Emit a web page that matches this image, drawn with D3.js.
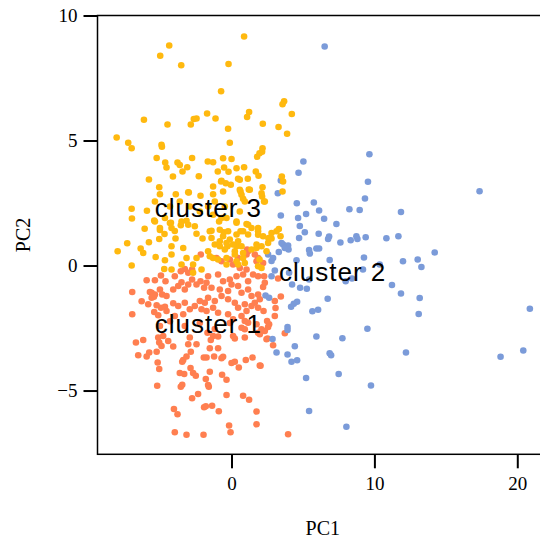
<!DOCTYPE html>
<html>
<head>
<meta charset="utf-8">
<script src="https://cdn.jsdelivr.net/npm/d3@7"></script>
<style>
  body { margin: 0; background: #fff; }
  svg { display: block; }
</style>
</head>
<body>
<div id="chart"></div>
<script>

// cluster 1 (orange) [PC1, PC2]
var cluster1 = [
  [1.09,0.64],[-6.95,-1.06],[-6.95,-1.95],[-6.29,-1.43],[-5.94,-0.59],[-5.59,-1.09],[-5.43,-1.25],
  [-6.69,-3.08],[-6.18,-2.98],[-6.53,-3.59],[-5.94,-3.64],[-5.76,-3.48],[-5.24,-3.45],[-5.13,-2.88],
  [-4.78,-2.82],[-5.06,-3.08],[-4.90,-3.22],[-4.43,-3.02],[-4.08,-3.24],[-2.92,-2.88],[-3.03,-3.15],
  [-2.45,-3.15],[-2.85,-3.45],[-3.15,-3.64],[-3.38,-3.78],[-3.45,-3.85],[-1.94,-3.68],[-5.17,-3.88],
  [-5.06,-4.14],[-3.62,-4.30],[-3.31,-4.34],[-2.87,-4.10],[-2.69,-4.30],[-2.50,-4.41],[-1.80,-4.54],
  [-5.20,-4.81],[-3.55,-4.85],[-3.45,-4.77],[-2.34,-5.14],[-2.76,-5.31],[-4.03,-5.74],[-3.78,-5.95],
  [-1.92,-5.67],[-3.97,-6.67],[-3.15,-6.77],[-1.96,-6.77],
  [-1.68,-2.69],[-1.29,-2.82],[-0.94,-2.84],[-1.45,-2.98],[0.11,-2.82],[0.23,-2.92],[0.93,-2.88],
  [0.70,-2.49],[0.93,-2.55],[1.86,-2.69],[1.98,-2.75],[2.33,-2.62],[2.52,-2.92],[2.56,-2.46],
  [2.91,-3.19],[3.73,-2.71],[-1.52,-3.31],[-0.94,-3.31],[-1.75,-3.68],[-1.22,-3.64],[-0.70,-3.71],
  [-0.59,-3.65],[0,-3.90],[0.23,-3.85],[0.51,-4.08],[1.00,-3.78],[1.47,-3.68],[2.03,-4.01],
  [-1.52,-4.25],[-0.66,-4.37],[-0.35,-4.57],[-1.64,-4.78],[-1.59,-4.85],[-0.35,-5.18],[0.81,-5.21],
  [1.23,-5.37],[-1.80,-5.63],[-1.36,-5.61],[-0.89,-5.83],[1.75,-5.84],[-0.17,-6.40],[-0.07,-6.67],
  [1.75,-6.35],[3.96,-6.75],
  [3.45,-1.24],[3.26,-0.52],[3.08,-1.70],[1.98,-4.00],[2.45,-2.95],[2.49,-2.22],[2.63,-2.35],
  [2.24,-1.82],[2.21,-0.86],[2.28,-0.43],
  [-5.36,-0.59],[-4.94,-0.40],[-4.62,-0.63],[-3.97,-0.43],[-3.55,-0.23],[-3.27,-0.14],[-3.03,-0.29],
  [-2.76,-0.16],[-5.36,-1.16],[-5.71,-1.06],[-5.59,-1.29],[-5.01,-0.96],[-4.85,-1.16],[-4.55,-1.22],
  [-4.08,-0.96],[-3.73,-0.82],[-3.50,-0.67],[-3.27,-0.96],[-3.03,-0.76],[-2.76,-0.56],[-2.45,-0.76],
  [-2.17,-0.63],[-1.92,-0.89],[-1.75,-0.69],[-5.83,-1.55],[-5.24,-1.59],[-4.94,-1.69],[-4.66,-1.65],
  [-4.08,-1.51],[-3.73,-1.62],[-3.27,-1.49],[-2.92,-1.75],[-2.57,-1.62],[-2.22,-1.42],[-1.87,-1.49],
  [-2.10,-1.75],[-1.75,-1.82],[-5.41,-1.86],[-5.13,-1.99],[-4.55,-1.82],[-3.97,-2.02],[-3.38,-1.95],
  [-2.15,0.44],
  [1.16,0.57],[1.05,0.44],[1.63,0.44],[1.86,0.30],[2.21,0.10],[1.75,0.17],[-1.05,0.30],[-0.70,0.17],
  [-0.12,0.24],[0.11,0.04],[0.46,0.30],[0.58,-0.10],[1.05,-0.16],[-1.64,-0.43],[-0.94,-0.36],
  [-0.59,-0.63],[-0.12,-0.56],[0.35,-0.43],[0.81,-0.36],[1.16,-0.63],[1.51,-0.36],[1.86,-0.43],
  [2.33,-0.69],[-1.40,-0.89],[-0.82,-0.96],[-0.24,-1.02],[0,-0.76],[0.46,-0.82],[0.70,-1.09],
  [1.16,-0.96],[1.40,-1.22],[1.86,-1.16],[1.98,-1.35],[1.63,-1.49],[-1.64,-1.29],[-1.17,-1.42],
  [-0.70,-1.22],[-0.24,-1.35],[0.23,-1.49],[0.46,-1.69],[0.93,-1.55],[1.05,-1.82],[1.40,-1.62],
  [1.86,-1.69],[-1.29,-1.69],[-0.94,-1.89],[-0.24,-1.95],[0.11,-2.15],[0.70,-2.02],[1.16,-2.29],
  [1.75,-2.35],[2.10,-2.55],[3.03,-1.42],[3.03,-2.02],
  [-4.31,-2.23],[-3.27,-2.42],[-2.22,-2.30],[-1.17,-2.54],[-0.12,-2.30],[-5.01,-2.42],[0.93,-2.22]
];

// cluster 2 (blue)
var cluster2 = [
  [6.52,8.76],[9.65,4.45],[5.03,4.16],[4.69,3.71],[9.55,3.35],[17.36,2.97],[9.34,2.68],[3.45,3.40],
  [3.24,2.89],[4.57,2.49],[5.76,2.52],[6.13,2.20],[8.25,2.25],[8.97,2.22],[11.86,2.14],[3.45,2.00],
  [4.66,1.90],[5.22,2.06],[6.48,1.87],[7.34,1.66],[4.78,1.58],[5.13,1.33],[6.10,1.27],[6.83,1.16],
  [6.76,1.06],[7.62,0.92],[8.34,1.01],[8.74,1.17],[8.81,1.06],[9.39,1.13],[10.84,1.09],[11.68,1.17],
  [4.73,1.10],[3.61,0.84],[3.96,0.80],[3.99,0.64],[3.31,0.54],[5.43,0.62],[5.48,0.48],[5.94,0.68],
  [6.13,0.68],[9.27,0.32],[14.22,0.52],[13.03,0.24],[13.29,-0.06],[12.0,0.17],[2.80,0.18],[4.55,0.21],
  [6.87,0.22],[3.03,-0.20],[4.03,-0.29],[10.37,0.04],[9.20,-0.16],
  [7.99,-0.63],[8.43,-0.52],[5.43,-0.56],[4.24,-0.76],[4.80,-0.89],[5.27,-0.93],[11.23,-0.78],
  [11.86,-1.12],[13.17,-1.30],[13.10,-1.94],[6.73,-1.33],[4.59,-1.45],[4.36,-1.53],[4.17,-1.65],
  [6.06,-1.77],[5.66,-1.83],[20.88,-1.73],[9.51,-2.53],[3.92,-2.46],[3.92,-2.58],[5.94,-2.84],
  [7.76,-2.91],[2.87,-2.94],[3.15,-3.48],[4.43,-3.23],[3.92,-3.56],[4.20,-3.85],[4.59,-3.79],
  [6.87,-3.51],[6.97,-3.59],[12.21,-3.48],[20.42,-3.40],[18.83,-3.65],[7.50,-4.34],[5.22,-4.50],
  [9.76,-4.80],[5.43,-5.82],[8.04,-6.45],
  [3.50,0.90],[3.73,0.70],[2.56,0.44],[2.91,0.30],[2.80,-0.43],[2.38,-1.20],[2.63,-1.29]
];

// cluster 3 (yellow)
var cluster3 = [
  [0.88,9.16],[-4.36,8.80],[-4.99,8.39],[-0.21,8.06],[-3.52,8.01],[-0.73,6.97],[1.23,6.14],[1.09,5.94],
  [-1.71,6.08],[-1.12,5.88],[-2.45,5.88],[-2.64,5.86],[-2.85,5.64],[-6.13,5.83],[-4.48,5.64],[2.19,5.67],
  [3.29,5.54],[-0.24,5.47],[-8.04,5.12],[-7.23,4.91],[-6.99,4.69],[-0.12,4.91],[-4.90,4.83],[-4.87,4.75],
  [2.17,4.69],[2.14,4.55],[-5.24,4.30],[-2.76,4.30],[-0.59,4.29],[0,4.26],[1.79,4.35],[1.96,4.49],
  [-4.64,4.12],[-3.78,4.12],[-1.66,4.16],[-1.29,4.13],[0.88,3.93],[-4.55,3.92],[-3.62,4.02],[-3.10,3.93],
  [-3.43,3.76],[-0.52,3.92],[-0.21,3.75],[0.35,3.89],[-0.96,3.76],[1.70,3.76],[-4.10,3.56],[-2.29,3.57],
  [1.14,3.47],[1.89,3.59],[-5.78,3.44],[-0.73,3.36],[-0.40,3.29],[-0.05,3.23],[0.58,3.43],[-5.06,3.13],
  [-1.29,3.16],[2.17,3.13],[0.63,2.96],[1.21,3.04],[-2.99,2.92],[-2.17,2.79],[2.14,2.76],[0.81,2.67],
  [-6.99,2.27],[-6.97,1.88],[-5.92,2.19],[-5.41,1.80],[-4.66,1.90],[-4.24,1.71],[-3.15,1.79],[-3.55,1.61],
  [-0.87,1.76],[-0.35,1.90],[0.35,1.71],[1.05,1.66],[-6.08,1.47],[-5.01,1.42],[-4.69,1.26],[-3.97,1.38],
  [-2.45,1.27],[-1.40,1.39],[-0.54,1.33],[0.63,1.37],[1.86,1.23],[2.59,1.08],[-7.30,0.89],[-7.97,0.57],
  [-5.78,0.93],[-5.06,1.06],[-3.92,1.08],[-3.38,0.70],[-2.03,1.08],[-0.82,0.97],[-0.28,0.77],[0.35,0.77],
  [1.75,0.70],[-6.36,0.68],[-6.18,0.50],[-4.20,0.77],[-1.64,0.57],[-6.99,0],[-5.31,0.34],[-4.66,0.21],
  [-4.20,0.44],[-3.15,0.30],[-2.45,0.30],[-1.29,0.30],[0.23,0.44],[0.81,0.30],[1.96,0.24],[-3.50,0.04],
  [-2.69,0.04],[-0.35,0.04],[0.46,0.04],
  [3.68,6.57],[3.57,6.45],[4.22,6.06],[3.89,5.27],[3.52,3.56],[3.61,3.36],[3.57,2.96],[2.28,2.56],
  [2.61,1.10],[2.80,1.08],[3.43,1.17],[3.31,1.46],
  [-1.52,1.37],[-1.40,1.10],[-0.82,1.43],[-0.59,1.17],[-0.24,1.37],[-0.12,1.04],[0.35,1.24],[0.46,0.97],
  [0.81,1.37],[1.16,1.24],[1.40,1.50],[1.86,1.37],[2.21,1.17],[2.80,1.30],[3.15,1.37],
  [-1.17,0.84],[-0.82,0.77],[-0.47,0.64],[-0.35,0.90],[0.11,0.84],[0.23,0.57],[0.70,0.77],[0.81,0.50],
  [1.40,0.64],[1.75,0.84],[2.10,0.77],[2.45,0.57],[2.56,0.90],[-1.52,0.37],[-0.94,0.24],[-0.35,0.30],
  [0.35,0.17],[0.93,0.10],[1.86,-0.03],[2.10,-0.10],
  [-4.71,-0.14],[-4.20,-0.16],[-2.69,-0.29],[-2.10,-0.16],
  [-5.01,2.85],[-3.90,2.85],[-3.03,2.93],[-5.36,2.56],[-5.36,1.76],[-5.01,1.50],[-4.31,1.70],[-4.20,1.50],
  [-3.50,1.76],[-3.03,1.63],[-2.57,1.57],
  [-0.70,3.39],[0.46,3.47],[0.58,3.03],[0.70,2.83],[1.28,3.03],[2.10,2.89],[2.33,2.56],[0.93,2.56],
  [-0.59,2.96],[-1.29,2.85],[0.35,1.76],[1.16,1.63],[1.86,1.50],[-1.64,2.36],[-1.29,2.03],[-0.70,1.90],
  [-2.92,2.36],[-2.22,2.16],[-1.17,2.56],[-0.47,2.36],[0.58,2.16],[-4.31,2.36],[-3.62,2.56]
];

var clusterNames = ["cluster 1", "cluster 2", "cluster 3"];
var clusterColors = ["#ff7f50", "#7b9bd9", "#ffb90f"];
// label anchor positions in data units
var labelPos = [[-1.62, -2.69], [7.08, -0.63], [-1.62, 1.96]];

var xTicks = [0, 10, 20];
var yTicks = [-5, 0, 5, 10];

var width = 540, height = 546;
var plotLeft = 97.5, plotTop = 15.5, plotRight = 548, plotBottom = 454.3;

var svg = d3.select("#chart")
  .append("svg")
  .attr("width", width)
  .attr("height", height);

var x = d3.scaleLinear()
  .domain([-9.38, 22.15])
  .range([plotLeft, plotRight]);

var y = d3.scaleLinear()
  .domain([-7.55, 10])
  .range([plotBottom, plotTop]);

// axes with outward ticks
var xAxis = svg.append("g")
  .attr("transform", "translate(0," + plotBottom + ")")
  .call(d3.axisBottom(x).tickValues(xTicks).tickSize(14).tickPadding(8).tickFormat(d3.format("d")));

var yAxis = svg.append("g")
  .attr("transform", "translate(" + plotLeft + ",0)")
  .call(d3.axisLeft(y).tickValues(yTicks).tickSize(14).tickPadding(6).tickFormat(function(d) {
    return d < 0 ? "\u2212" + Math.abs(d) : d;
  }));

[xAxis, yAxis].forEach(function(g) {
  g.select(".domain").remove();
  g.selectAll(".tick line").attr("stroke", "#000").attr("stroke-width", 2);
  g.selectAll(".tick text")
    .attr("fill", "#000")
    .style("font-family", "'Liberation Serif', 'Times New Roman', serif")
    .style("font-size", "19px");
});

// frame
svg.append("rect")
  .attr("x", plotLeft)
  .attr("y", plotTop)
  .attr("width", plotRight - plotLeft)
  .attr("height", plotBottom - plotTop)
  .attr("fill", "none")
  .attr("stroke", "#000")
  .attr("stroke-width", 1.5);

// points
var clusters = [cluster1, cluster2, cluster3];
clusters.forEach(function(pts, i) {
  svg.append("g")
    .selectAll("circle")
    .data(pts)
    .enter()
    .append("circle")
    .attr("cx", function(d) { return x(d[0]); })
    .attr("cy", function(d) { return y(d[1]); })
    .attr("r", 3.3)
    .attr("fill", clusterColors[i]);
});

// cluster labels
svg.append("g")
  .selectAll("text")
  .data(clusterNames)
  .enter()
  .append("text")
  .attr("x", function(d, i) { return x(labelPos[i][0]); })
  .attr("y", function(d, i) { return y(labelPos[i][1]); })
  .attr("text-anchor", "middle")
  .style("font-family", "'Liberation Sans', Arial, sans-serif")
  .style("font-size", "26px")
  .style("letter-spacing", "1px")
  .attr("fill", "#000")
  .text(function(d) { return d; });

// axis titles
svg.append("text")
  .attr("x", (plotLeft + plotRight) / 2)
  .attr("y", 535)
  .attr("text-anchor", "middle")
  .style("font-family", "'Liberation Serif', 'Times New Roman', serif")
  .style("font-size", "20px")
  .text("PC1");

svg.append("text")
  .attr("transform", "translate(30," + ((plotTop + plotBottom) / 2) + ") rotate(-90)")
  .attr("text-anchor", "middle")
  .style("font-family", "'Liberation Serif', 'Times New Roman', serif")
  .style("font-size", "20px")
  .text("PC2");

</script>
</body>
</html>
